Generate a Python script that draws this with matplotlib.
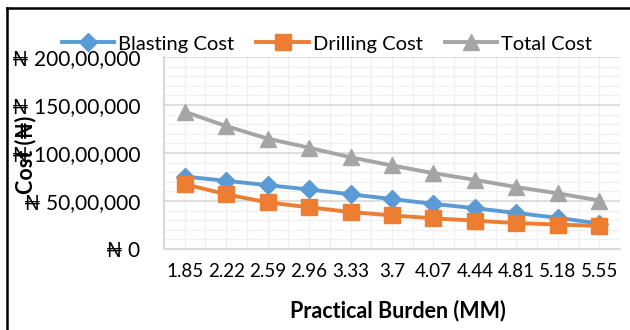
import matplotlib

matplotlib.use("Agg")
import matplotlib.pyplot as plt
from matplotlib.lines import Line2D
from matplotlib.ticker import FuncFormatter, MultipleLocator

burden = ["1.85", "2.22", "2.59", "2.96", "3.33", "3.7", "4.07", "4.44", "4.81", "5.18", "5.55"]
blasting = [7550000, 7100000, 6650000, 6200000, 5700000, 5200000, 4700000, 4250000, 3750000, 3250000, 2650000]
drilling = [6750000, 5700000, 4850000, 4350000, 3850000, 3500000, 3200000, 2950000, 2700000, 2550000, 2400000]
total = [14300000, 12800000, 11500000, 10550000, 9550000, 8700000, 7900000, 7200000, 6450000, 5800000, 5050000]

FONT = ["Lato", "DejaVu Sans"]
plt.rcParams["font.family"] = FONT


def naira(v, _pos=None):
    # lakh grouping on the last five digits: 200,00,000
    v = int(round(v))
    if v == 0:
        return "\u20a6 0"
    s = str(v)
    parts = [s[-3:]]
    if len(s) > 3:
        parts.insert(0, s[-5:-3])
    if len(s) > 5:
        parts.insert(0, s[:-5])
    return "\u20a6 " + ",".join(parts)


fig = plt.figure(figsize=(6.3, 3.3), dpi=100)
ax = fig.add_axes([164 / 630, 1 - 249 / 330, 456 / 630, 192 / 330])

x = list(range(len(burden)))
ax.plot(x, blasting, color="#5B9BD5", lw=2.8, marker="D", ms=9, label="Blasting Cost", zorder=3)
ax.plot(x, drilling, color="#ED7D31", lw=2.8, marker="s", ms=11, label="Drilling Cost", zorder=4)
ax.plot(x, total, color="#A5A5A5", lw=2.8, marker="^", ms=11, label="Total Cost", zorder=3)

ax.set_xlim(-0.5, len(burden) - 0.5)
ax.set_ylim(0, 20000000)
ax.set_xticks(x)
ax.set_xticklabels(burden, fontsize=13.5)
ax.xaxis.set_minor_locator(MultipleLocator(0.5))
ax.yaxis.set_major_locator(MultipleLocator(5000000))
ax.yaxis.set_minor_locator(MultipleLocator(1000000))
ax.yaxis.set_major_formatter(FuncFormatter(naira))
ax.tick_params(axis="y", labelsize=15, length=0, pad=17)
ax.tick_params(axis="x", length=0, pad=10)
ax.tick_params(which="minor", length=0)

ax.grid(which="major", axis="y", color="#D9D9D9", lw=1.2)
ax.grid(which="minor", axis="y", color="#F0F0F0", lw=1.0)
ax.grid(which="both", axis="x", color="#F0F0F0", lw=1.0)
ax.set_axisbelow(True)
for side in ["top", "right"]:
    ax.spines[side].set_visible(False)
for side in ["left", "bottom"]:
    ax.spines[side].set_color("#D9D9D9")
    ax.spines[side].set_linewidth(1.5)

fig.text(398 / 630, 1 - 311 / 330, "Practical Burden (MM)", ha="center", va="center",
         fontsize=15.5, fontweight="bold")
fig.text(26 / 630, 1 - 155 / 330, "Cost (\u20a6)", ha="center", va="center", rotation=90,
         fontsize=15.5, fontweight="bold")

ax.legend(loc="center", bbox_to_anchor=(327 / 630, 1 - 44 / 330), bbox_transform=fig.transFigure,
          ncol=3, frameon=False, fontsize=14.5, handlelength=2.6, handletextpad=0.2, columnspacing=1.1,
          borderpad=0)

# chart frame, left and top edges
fig.add_artist(Line2D([7 / 630, 7 / 630], [0, 1 - 8 / 330], color="black", lw=1.8))
fig.add_artist(Line2D([7 / 630, 1], [1 - 8 / 330, 1 - 8 / 330], color="black", lw=1.8))

fig.savefig("out.png", dpi=100)
